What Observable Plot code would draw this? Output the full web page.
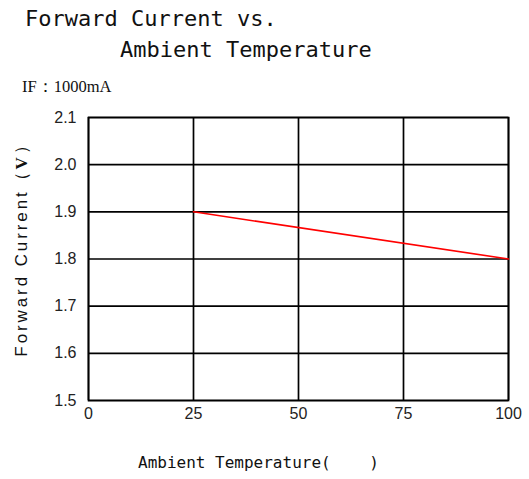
<!DOCTYPE html>
<html><head><meta charset="utf-8">
<script src="https://cdn.jsdelivr.net/npm/d3@7"></script>
<script src="https://cdn.jsdelivr.net/npm/@observablehq/plot@0.6"></script>
<style>
body{margin:0;background:#fff;}
#wrap{position:relative;width:529px;height:479px;overflow:hidden;}
.t{position:absolute;white-space:pre;font-family:"DejaVu Sans Mono",monospace;color:#111;line-height:1;}
</style></head><body>
<div id="wrap">
<div id="chart"></div>
<div class="t" style="left:25px;top:8px;font-size:22px;">Forward Current vs.</div>
<div class="t" style="left:120px;top:39px;font-size:22px;">Ambient Temperature</div>
<div class="t" style="left:22px;top:79px;font-size:16.5px;font-family:'Liberation Serif',serif;">IF：1000mA</div>
<div class="t" style="left:-109px;top:237px;width:260px;text-align:center;font-size:17px;letter-spacing:2.9px;font-family:'Liberation Sans',Arial,sans-serif;transform:rotate(-90deg);">Forward Current（<b style="font-family:'Liberation Serif',serif;">V</b>）</div>
<div class="t" style="left:138px;top:455px;font-size:16px;">Ambient Temperature(    )</div>
</div>
<script>
const temps = [25, 100];
const vf = [1.9, 1.8];
const xTicks = [0, 25, 50, 75, 100];
const yTicks = [1.5, 1.6, 1.7, 1.8, 1.9, 2.0, 2.1];
const data = temps.map((t, i) => ({t, v: vf[i]}));
const chart = Plot.plot({
  width: 529, height: 479,
  marginTop: 117, marginLeft: 88, marginRight: 21, marginBottom: 79,
  style: {fontFamily: "'Liberation Sans', Arial, sans-serif", fontSize: "16px", color: "#222", background: "transparent"},
  x: {domain: [0, 100], ticks: xTicks, label: null},
  y: {domain: [1.5, 2.1], ticks: yTicks, label: null, tickFormat: d3.format(".1f")},
  marks: [
    Plot.gridX(xTicks, {stroke: "#000", strokeOpacity: 1, strokeWidth: 1.7}),
    Plot.gridY(yTicks, {stroke: "#000", strokeOpacity: 1, strokeWidth: 1.7}),
    Plot.frame({stroke: "#000", strokeWidth: 1.7}),
    Plot.axisX({ticks: xTicks, tickSize: 0, tickPadding: 7, label: null, fontSize: 16}),
    Plot.axisY({ticks: yTicks, tickSize: 0, tickPadding: 12, label: null, fontSize: 16, tickFormat: d3.format(".1f")}),
    Plot.line(data, {x: "t", y: "v", stroke: "red", strokeWidth: 1.6})
  ]
});
document.getElementById("chart").appendChild(chart);
</script>
</body></html>
